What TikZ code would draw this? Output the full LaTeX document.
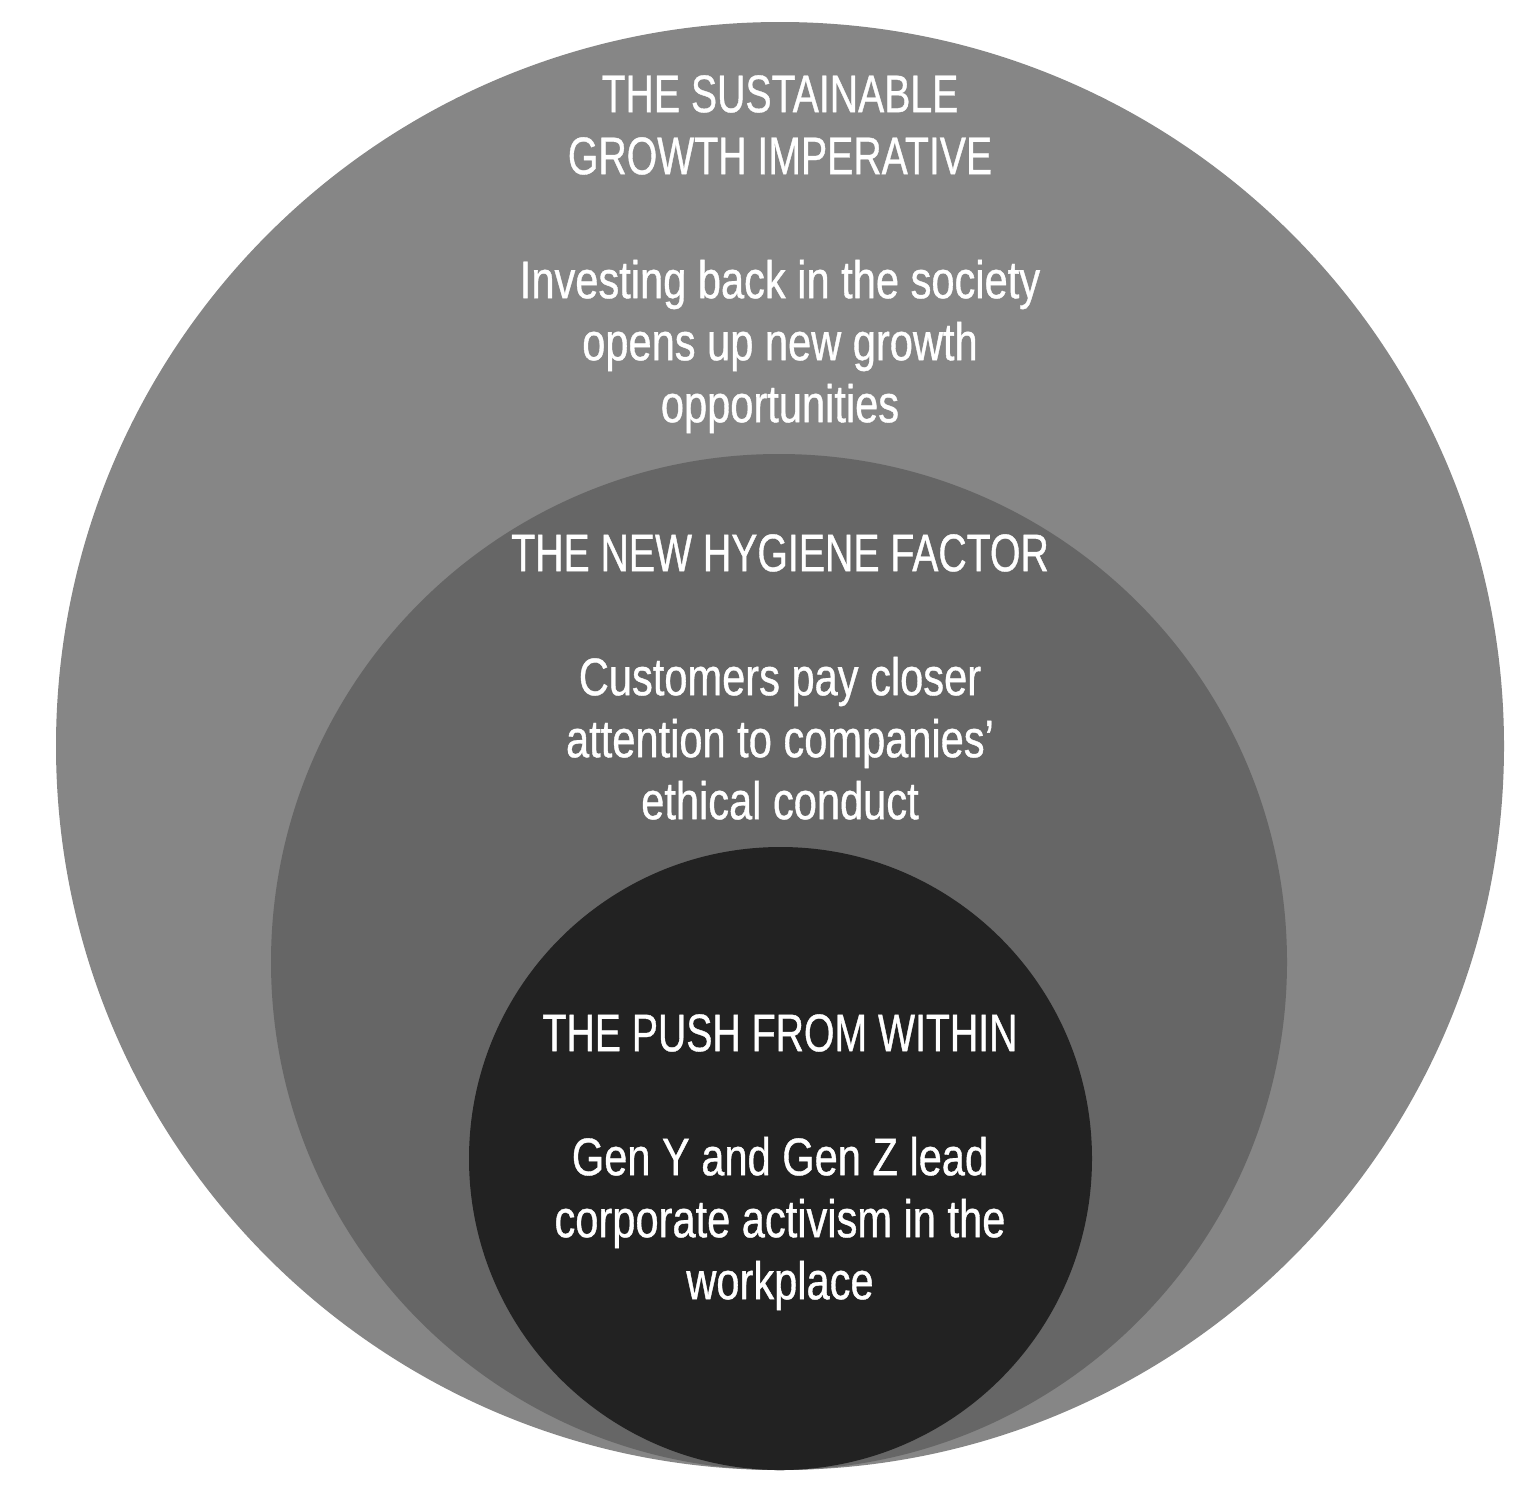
\documentclass[tikz,border=0pt]{standalone}
\usepackage{fontspec}
\newfontfamily\condfont[FakeStretch=0.74,FakeBold=0.7]{Liberation Sans}
\newfontfamily\bodyfont[FakeStretch=0.785,FakeBold=0.7]{Liberation Sans}
\definecolor{outergray}{HTML}{868686}
\definecolor{middlegray}{HTML}{666666}
\definecolor{innergray}{HTML}{222222}
\newcommand{\bodytext}[1]{{\bodyfont #1}}
\begin{document}
\begin{tikzpicture}[x=1pt,y=-1pt,
  ring/.style={circle,inner sep=0pt,draw=none},
  label/.style={text=white,align=center,inner sep=0pt,anchor=north,
    font=\condfont\fontsize{53}{62}\selectfont}]
\useasboundingbox (0,0) rectangle (1538,1502);
\fill[white] (0,0) rectangle (1538,1502);
\node[ring,fill=outergray,minimum size=1448pt] (outer) at (780,746) {};
\node[ring,fill=middlegray,minimum size=1016pt] (middle) at (779,962) {};
\node[ring,fill=innergray,minimum size=623pt] (inner) at (780.5,1158.5) {};
\node[label] (t1) at (780,75) {THE SUSTAINABLE\\GROWTH IMPERATIVE\\[62pt]\bodytext{Investing back in the society}\\\bodytext{opens up new growth}\\\bodytext{opportunities}};
\node[label] (t2) at (780,534) {THE NEW HYGIENE FACTOR\\[62pt]\bodytext{Customers pay closer}\\\bodytext{attention to companies’}\\\bodytext{ethical conduct}};
\node[label] (t3) at (780,1014) {THE PUSH FROM WITHIN\\[62pt]\bodytext{Gen Y and Gen Z lead}\\\bodytext{corporate activism in the}\\\bodytext{workplace}};
\end{tikzpicture}
\end{document}
